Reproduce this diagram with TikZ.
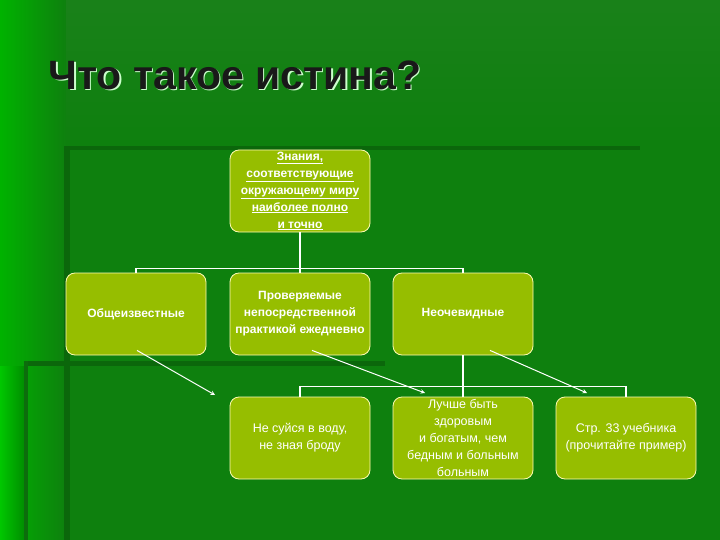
\documentclass[tikz,border=0pt]{standalone}
\usepackage{fontspec}
\setmainfont{Liberation Sans}
\newcommand\myul[1]{\underline{#1}}
\begin{document}
\begin{tikzpicture}[x=1pt,y=-1pt,
  box/.style={draw=white!70!yellow, line width=0.8pt, fill=boxg, rounded corners=9pt, minimum width=140pt, minimum height=82pt, inner sep=0pt, text=white, align=center, font=\fontsize{12.5}{17}\selectfont},
  bbox/.style={box, font=\fontsize{12}{17}\bfseries\selectfont},
  conn/.style={draw=white, line width=1.2pt},
  arr/.style={draw=white, line width=1pt, -stealth}]
\definecolor{boxg}{RGB}{150,190,0}
\definecolor{bgg}{RGB}{14,128,14}
\useasboundingbox (0,0) rectangle (720,540);
\fill[bgg] (0,0) rectangle (720,540);
\shade[left color=green!70!black, right color=bgg] (0,0) rectangle (66,540);
\shade[left color=green!78!black, right color=green!55!black] (0,366) rectangle (25,540);
\shade[top color=green!45!black!90, bottom color=bgg] (66,0) rectangle (720,146);
\fill[bgg!80!black] (68,146) rectangle (640,150);
\fill[bgg!80!black] (64,146) rectangle (70,540);
\fill[bgg!80!black] (24,361) rectangle (385,366);
\fill[bgg!85!black] (24,361) rectangle (28,540);
\node[anchor=west, font=\fontsize{41}{45}\bfseries\selectfont, text=white!80!green] at (46.5,76.5) {Что такое истина?};
\node[anchor=west, font=\fontsize{41}{45}\bfseries\selectfont, text=black!90] (title) at (45,75) {Что такое истина?};
\node[bbox] (top) at (300,191) {\myul{Знания,}\\\myul{соответствующие}\\\myul{окружающему миру}\\\myul{наиболее полно}\\\myul{и точно}};
\node[bbox] (a) at (136,314) {Общеизвестные};
\node[bbox] (b) at (300,314) {Проверяемые\\непосредственной\\практикой ежедневно};
\node[bbox] (c) at (463,314) {Неочевидные};
\node[box] (d) at (300,438) {Не суйся в воду,\\не зная броду};
\node[box] (e) at (463,438) {Лучше быть\\здоровым\\и богатым, чем\\бедным и больным\\больным};
\node[box] (f) at (626,438) {Стр. 33 учебника\\(прочитайте пример)};
\draw[conn] (top.south) -- ++(0,36) -| (a.north);
\draw[conn] (top.south) ++(0,36) -| (c.north);
\draw[conn] (top.south) -- (b.north);
\draw[conn] (c.south) -- ++(0,31) -| (d.north);
\draw[conn] (c.south) ++(0,31) -| (f.north);
\draw[conn] (c.south) -- (e.north);
\coordinate (a1) at (215,395); \coordinate (b1) at (425,393); \coordinate (c1) at (587,393);
\draw[arr] (a.south) ++(1,-5) -- (a1);
\draw[arr] (b.south) ++(12,-5) -- (b1);
\draw[arr] (c.south) ++(27,-5) -- (c1);
\end{tikzpicture}
\end{document}
